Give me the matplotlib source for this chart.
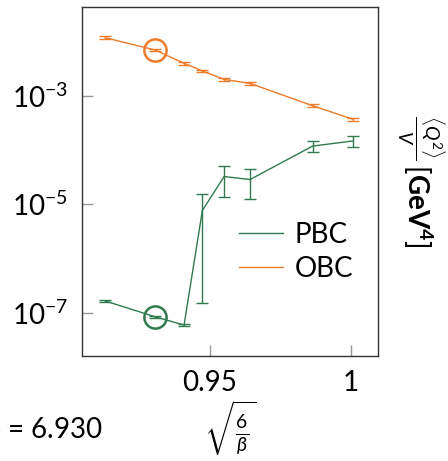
import matplotlib
matplotlib.use("Agg")
import matplotlib.pyplot as plt
from matplotlib.lines import Line2D

plt.rcParams['font.family'] = ['Lato', 'DejaVu Sans']
plt.rcParams['mathtext.fontset'] = 'custom'
plt.rcParams['mathtext.rm'] = 'Lato'
plt.rcParams['mathtext.it'] = 'Lato:italic'
plt.rcParams['mathtext.bf'] = 'Lato:bold'

# sqrt(6/beta)
x = [0.9129, 0.9305, 0.9408, 0.9473, 0.9550, 0.9642, 0.9864, 1.0008]

obc = [1.19e-2, 7.06e-3, 4.02e-3, 2.90e-3, 2.03e-3, 1.71e-3, 6.62e-4, 3.71e-4]
obc_err = [0.07e-2, 0.40e-3, 0.22e-3, 0.16e-3, 0.11e-3, 0.09e-3, 0.35e-4, 0.20e-4]

pbc = [1.64e-7, 8.4e-8, 5.9e-8, 7.7e-6, 3.26e-5, 2.87e-5, 1.19e-4, 1.48e-4]
pbc_err = [0.07e-7, 0.4e-8, 0.3e-8, 7.55e-6, 1.9e-5, 1.63e-5, 2.7e-5, 3.2e-5]

highlight = 1  # index of beta = 6.930
green = '#2f7a4e'
orange = '#ec7b2c'

fig = plt.figure(figsize=(4.48, 4.61), dpi=100)
ax = fig.add_axes([0.1824, 0.2278, 0.6614, 0.757])

ax.errorbar(x, pbc, yerr=pbc_err, color=green, lw=1.0, elinewidth=1.0,
            capsize=4, capthick=1.0)
ax.errorbar(x, obc, yerr=obc_err, color=orange, lw=1.0, elinewidth=1.0,
            capsize=4, capthick=1.0)
ax.plot(x[highlight], pbc[highlight], 'o', ms=16, mfc='none', mec=green, mew=1.8)
ax.plot(x[highlight], obc[highlight], 'o', ms=16, mfc='none', mec=orange, mew=1.8)

ax.set_yscale('log')
ax.set_xlim(0.9045, 1.0096)
ax.set_ylim(10**-7.8, 10**-1.357)
ax.set_yticks([1e-3, 1e-5, 1e-7])
ax.set_yticklabels([r'$10^{-3}$', r'$10^{-5}$', r'$10^{-7}$'])
ax.minorticks_off()
ax.set_xticks([0.95, 1.0])
ax.set_xticklabels(['0.95', '1'])
ax.tick_params(direction='in', length=8, width=1, color='#999999',
               labelsize=20, pad=10)
for s in ax.spines.values():
    s.set_color('#333333')
    s.set_linewidth(1.0)

ax.set_xlabel(r'$\sqrt{\frac{6}{\beta}}$', fontsize=20, labelpad=2)
ax.yaxis.set_label_position('right')
ax.set_ylabel(r'$\frac{\langle Q^2\rangle}{V}\,[\mathbf{GeV^4}]$', fontsize=20,
              rotation=270, labelpad=49)

handles = [Line2D([], [], color=green, lw=1.0), Line2D([], [], color=orange, lw=1.0)]
ax.legend(handles, ['PBC', 'OBC'], loc='upper left', bbox_to_anchor=(0.531, 0.385),
          frameon=False, fontsize=20, borderpad=0, borderaxespad=0,
          handlelength=1.6, handletextpad=0.4, labelspacing=0.3)

fig.text(103 / 448, 1 - 430 / 461, r'$\beta$ = 6.930', fontsize=20,
         ha='right', va='center')

fig.savefig('out.png', dpi=100)
